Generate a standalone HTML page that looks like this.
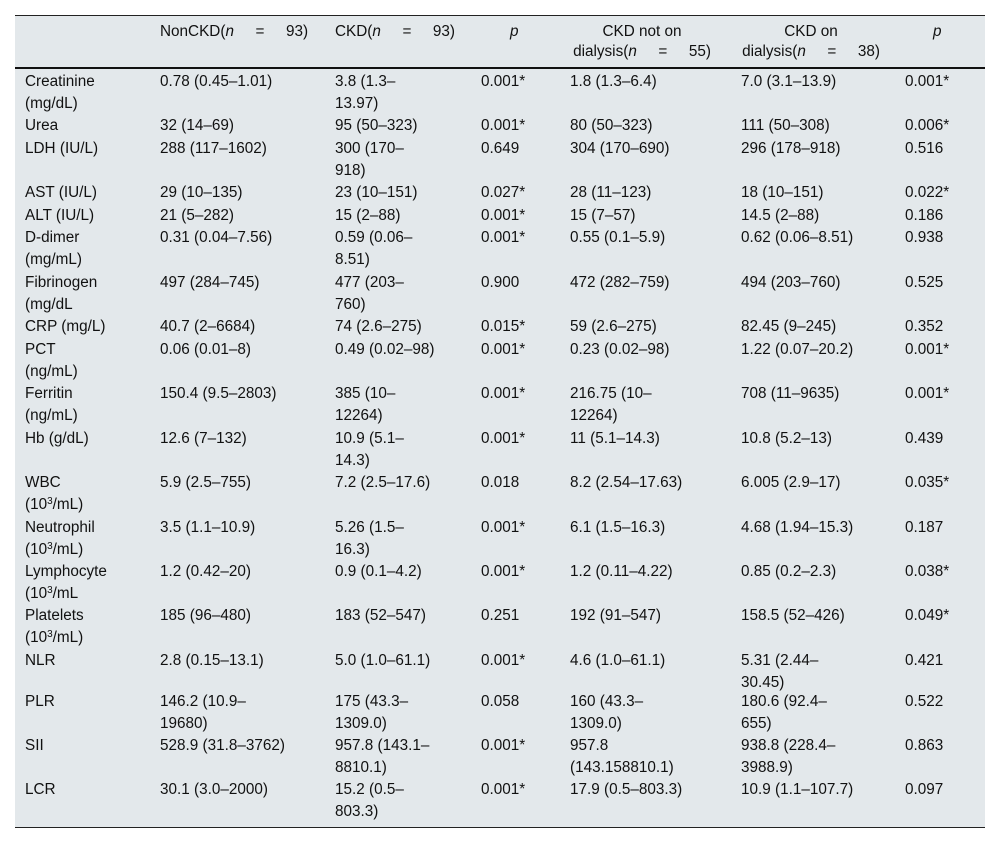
<!DOCTYPE html>
<html><head><meta charset="utf-8"><style>
body{margin:0;background:#fff;width:1000px;height:843px;position:relative;font-family:"Liberation Sans",Arial,sans-serif;font-size:15.3px;color:#111;overflow:hidden}
#tbl{position:absolute;left:15px;top:15px;width:970px;height:813px;background:#e3e8eb;border-top:1px solid #222;border-bottom:1px solid #222;box-sizing:border-box}
#hr{position:absolute;left:15px;top:67px;width:970px;height:2px;background:#111}
.c{position:absolute;line-height:22px;white-space:nowrap}
.h{position:absolute;line-height:20px;white-space:nowrap}
.e{display:inline-block;width:52px;text-align:center}
sup{font-size:10px;line-height:0;vertical-align:5px}
</style></head><body>
<div id="tbl"></div>
<div id="hr"></div>
<div class="h" style="left:160px;top:22px">NonCKD(<i>n</i><span class="e">=</span>93)</div>
<div class="h" style="left:335px;top:22px">CKD(<i>n</i><span class="e">=</span>93)</div>
<div class="h" style="left:510px;top:22px"><i>p</i></div>
<div class="h" style="left:560px;top:22px;width:164px;text-align:center">CKD not on<br>dialysis(<i>n</i><span class="e">=</span>55)</div>
<div class="h" style="left:731px;top:22px;width:160px;text-align:center">CKD on<br>dialysis(<i>n</i><span class="e">=</span>38)</div>
<div class="h" style="left:933px;top:22px"><i>p</i></div>
<div id="rows"></div>
<script>
const rows=[
[71,"Creatinine<br>(mg/dL)","0.78 (0.45–1.01)","3.8 (1.3–<br>13.97)","0.001*","1.8 (1.3–6.4)","7.0 (3.1–13.9)","0.001*"],
[115,"Urea","32 (14–69)","95 (50–323)","0.001*","80 (50–323)","111 (50–308)","0.006*"],
[138,"LDH (IU/L)","288 (117–1602)","300 (170–<br>918)","0.649","304 (170–690)","296 (178–918)","0.516"],
[182,"AST (IU/L)","29 (10–135)","23 (10–151)","0.027*","28 (11–123)","18 (10–151)","0.022*"],
[205,"ALT (IU/L)","21 (5–282)","15 (2–88)","0.001*","15 (7–57)","14.5 (2–88)","0.186"],
[227,"D-dimer<br>(mg/mL)","0.31 (0.04–7.56)","0.59 (0.06–<br>8.51)","0.001*","0.55 (0.1–5.9)","0.62 (0.06–8.51)","0.938"],
[272,"Fibrinogen<br>(mg/dL","497 (284–745)","477 (203–<br>760)","0.900","472 (282–759)","494 (203–760)","0.525"],
[316,"CRP (mg/L)","40.7 (2–6684)","74 (2.6–275)","0.015*","59 (2.6–275)","82.45 (9–245)","0.352"],
[339,"PCT<br>(ng/mL)","0.06 (0.01–8)","0.49 (0.02–98)","0.001*","0.23 (0.02–98)","1.22 (0.07–20.2)","0.001*"],
[383,"Ferritin<br>(ng/mL)","150.4 (9.5–2803)","385 (10–<br>12264)","0.001*","216.75 (10–<br>12264)","708 (11–9635)","0.001*"],
[428,"Hb (g/dL)","12.6 (7–132)","10.9 (5.1–<br>14.3)","0.001*","11 (5.1–14.3)","10.8 (5.2–13)","0.439"],
[472,"WBC<br>(10<sup>3</sup>/mL)","5.9 (2.5–755)","7.2 (2.5–17.6)","0.018","8.2 (2.54–17.63)","6.005 (2.9–17)","0.035*"],
[517,"Neutrophil<br>(10<sup>3</sup>/mL)","3.5 (1.1–10.9)","5.26 (1.5–<br>16.3)","0.001*","6.1 (1.5–16.3)","4.68 (1.94–15.3)","0.187"],
[561,"Lymphocyte<br>(10<sup>3</sup>/mL","1.2 (0.42–20)","0.9 (0.1–4.2)","0.001*","1.2 (0.11–4.22)","0.85 (0.2–2.3)","0.038*"],
[605,"Platelets<br>(10<sup>3</sup>/mL)","185 (96–480)","183 (52–547)","0.251","192 (91–547)","158.5 (52–426)","0.049*"],
[650,"NLR","2.8 (0.15–13.1)","5.0 (1.0–61.1)","0.001*","4.6 (1.0–61.1)","5.31 (2.44–<br>30.45)","0.421"],
[691,"PLR","146.2 (10.9–<br>19680)","175 (43.3–<br>1309.0)","0.058","160 (43.3–<br>1309.0)","180.6 (92.4–<br>655)","0.522"],
[735,"SII","528.9 (31.8–3762)","957.8 (143.1–<br>8810.1)","0.001*","957.8<br>(143.158810.1)","938.8 (228.4–<br>3988.9)","0.863"],
[779,"LCR","30.1 (3.0–2000)","15.2 (0.5–<br>803.3)","0.001*","17.9 (0.5–803.3)","10.9 (1.1–107.7)","0.097"]];
const colX=[25,160,335,481,570,741,905];
const colNames=['parameter','nonckd','ckd','p-ckd','ckd-not-dialysis','ckd-dialysis','p-dialysis'];
const host=document.getElementById('rows');
rows.forEach((r,i)=>{
  for(let j=1;j<r.length;j++){
    const d=document.createElement('div');
    d.className='c';
    d.style.left=colX[j-1]+'px';
    d.style.top=r[0]+'px';
    d.innerHTML=r[j];
    
    
    host.appendChild(d);
  }
});
</script>
</body></html>
